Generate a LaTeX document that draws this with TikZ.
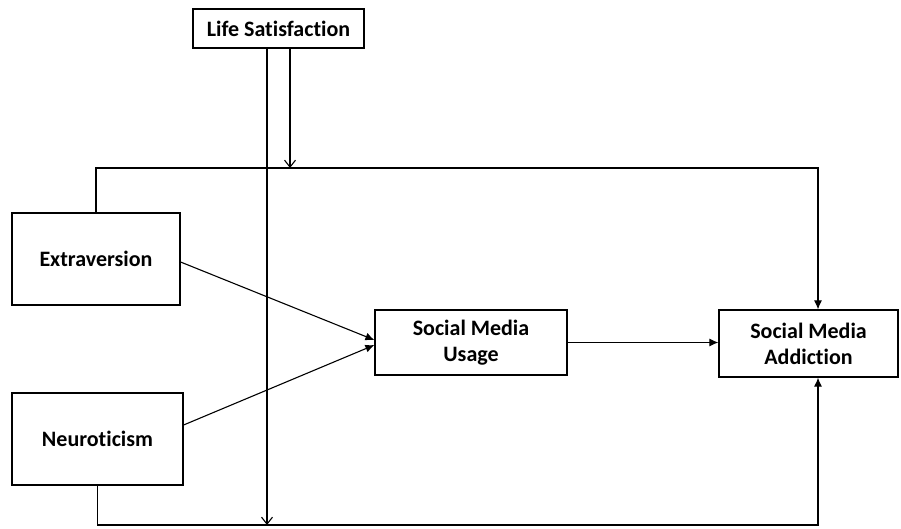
\documentclass[tikz,border=0pt]{standalone}
\usepackage{fontspec}
\setmainfont{Carlito}[Ligatures=NoCommon]
\usetikzlibrary{arrows.meta}
\begin{document}
\begin{tikzpicture}[x=1pt,y=-1pt,
  box/.style={draw,line width=1.2pt,align=center,font=\fontsize{22}{26}\selectfont\bfseries,inner sep=0pt},
  link/.style={line width=1.1pt,-{Latex[length=9pt,width=8pt]}},
  modlink/.style={line width=1.1pt,-{Straight Barb[length=7pt,width=11pt]}}]
  \useasboundingbox (0,0) rectangle (901,528);
  \node[box,minimum width=171pt,minimum height=39pt] (life) at (278.5,28.5) {Life Satisfaction};
  \node[box,minimum width=168pt,minimum height=92pt] (extra) at (96,259) {Extraversion};
  \node[box,minimum width=171pt,minimum height=92pt] (neuro) at (97.5,439) {Neuroticism};
  \node[box,minimum width=192pt,minimum height=65pt] (usage) at (471,342.5) {Social Media\\Usage};
  \node[box,minimum width=179pt,minimum height=67pt] (addict) at (808.5,343.5) {Social Media\\Addiction};
  \coordinate (topright) at (818,168);
  \coordinate (topmid) at (290,168);
  \coordinate (botright) at (818,525);
  \coordinate (botmid) at (267,525);
  % direct paths
  \draw[link] ([yshift=-3pt]extra.east) -- ([yshift=2.5pt]usage.west);
  \draw[link] ([yshift=14pt]neuro.east) -- ([yshift=-2.5pt]usage.west);
  \draw[link] (usage.east) -- (usage.east -| addict.west);
  % direct effects on addiction
  \draw[link] (extra.north) |- (topright) -- (topright |- addict.north);
  \draw[link] (neuro.south) |- (botright) -- (botright |- addict.south);
  % moderation
  \draw[modlink] ([xshift=11.5pt]life.south) -- (topmid);
  \draw[modlink] ([xshift=-11.5pt]life.south) -- (botmid);
\end{tikzpicture}
\end{document}
